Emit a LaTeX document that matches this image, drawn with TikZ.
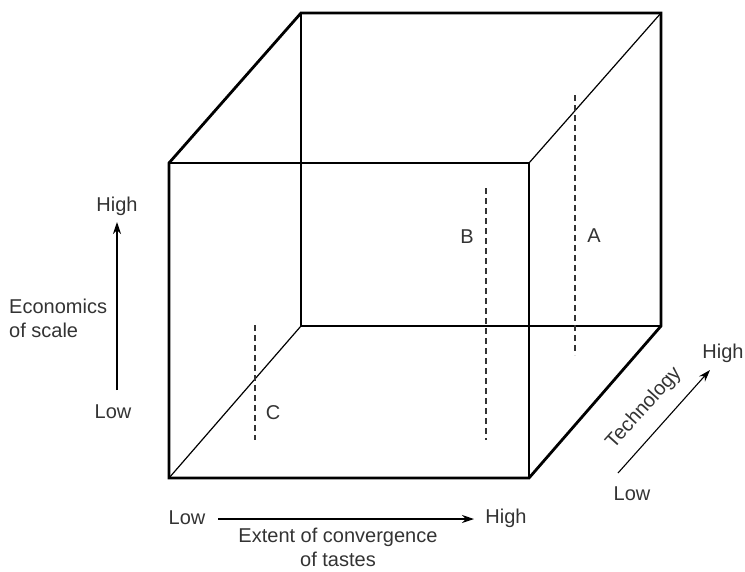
\documentclass[tikz,border=0pt]{standalone}
\usepackage{fontspec}
\setmainfont{Liberation Sans}
\usetikzlibrary{arrows.meta,calc}
\begin{document}
\begin{tikzpicture}[x=1pt,y=-1pt,
  thickedge/.style={line width=2.8pt,line join=miter,line cap=rect},
  thinedge/.style={line width=1.2pt},
  dashedge/.style={line width=1.2pt,dash pattern=on 6pt off 4pt,draw=black!80},
  lbl/.style={font=\fontsize{20}{24}\selectfont,text=black!80,inner sep=1pt},
  axis/.style={line width=1.1pt,-{Stealth[length=12pt,width=8pt]}}]
\useasboundingbox (0,0) rectangle (745,571);
% cube corners
\coordinate (ftl) at (169,163);
\coordinate (ftr) at (529,163);
\coordinate (fbl) at (169,478);
\coordinate (fbr) at (529,478);
\coordinate (btl) at (301,13);
\coordinate (btr) at (661,13);
\coordinate (bbl) at (301,326);
\coordinate (bbr) at (661,326);
% thin inner edges
\draw[thinedge] (ftl) -- (ftr) -- (fbr);
\draw[thinedge] (ftr) -- (btr);
\draw[thinedge] (btl) -- (bbl) -- (bbr);
\draw[thinedge] (fbl) -- (bbl);
% thick silhouette
\draw[thickedge] (ftl) -- (fbl) -- (fbr) -- (bbr) -- (btr) -- (btl) -- cycle;
% dashed lines
\coordinate (a1) at (575,95); \coordinate (a2) at (575,355);
\coordinate (b1) at (486,188); \coordinate (b2) at (486,440);
\coordinate (c1) at (255,325); \coordinate (c2) at (255,440);
\draw[dashedge] (a1) -- (a2);
\draw[dashedge] (b1) -- (b2);
\draw[dashedge] (c1) -- (c2);
\node[lbl] (A) at (594,236) {A};
\node[lbl] (B) at (467,237) {B};
\node[lbl] (C) at (273,413) {C};
% left axis
\node[lbl] (lhigh) at (117,206) {High};
\node[lbl] (llow) at (113,412) {Low};
\node[lbl,align=left,anchor=west] (econ) at (8,318) {Economics\\of scale};
\coordinate (lstart) at (117,390);
\coordinate (lend) at (117,222);
\draw[axis] (lstart) -- (lend);
% bottom axis
\node[lbl] (blow) at (187,518) {Low};
\node[lbl] (bhigh) at (506,518) {High};
\coordinate (bstart) at (218,519);
\coordinate (bend) at (474,519);
\draw[axis] (bstart) -- (bend);
\node[lbl,align=center] (ext) at (338,547) {Extent of convergence\\of tastes};
% technology axis
\coordinate (tstart) at (618,473);
\coordinate (tend) at (710,370);
\draw[axis] (tstart) -- (tend);
\node[lbl] (thigh) at (723,353) {High};
\node[lbl] (tlow) at (632,494) {Low};
\node[lbl,rotate=48] (tech) at (644,408) {Technology};
\end{tikzpicture}
\end{document}
